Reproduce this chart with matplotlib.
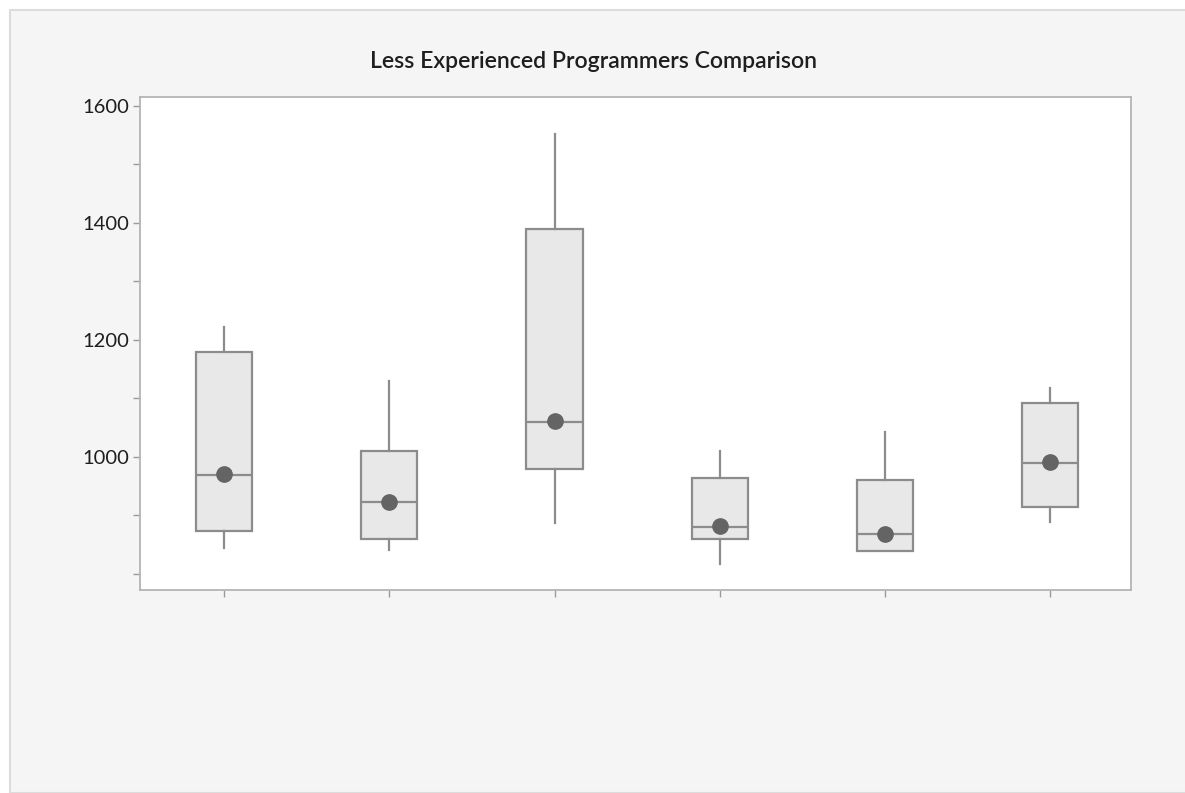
import numpy as np
import matplotlib
matplotlib.use('Agg')
import matplotlib.pyplot as plt
from matplotlib.patches import Rectangle

# Werte
groups = [1, 2, 3, 4, 5, 6]
whislo = [843, 840, 886, 817, 838, 889]
q1 = [873, 859, 979, 860, 838, 914]
med = [969, 922, 1060, 880, 867, 990]
q3 = [1179, 1010, 1389, 964, 960, 1091]
whishi = [1222, 1130, 1552, 1010, 1043, 1117]
means = [970, 923, 1061, 881, 867, 991]

plt.rcParams['font.family'] = ['Lato', 'DejaVu Sans']

fig = plt.figure(figsize=(11.85, 7.93), dpi=100, facecolor='white')
# grauer Hintergrund mit weissem Rand oben/links
bg = Rectangle((10 / 1185, 0), 1, 783 / 793, transform=fig.transFigure,
               facecolor='#f5f5f5', edgecolor='#dcdcdc', linewidth=1.5, zorder=-10)
fig.patches.append(bg)

ax = fig.add_axes([140 / 1185, 203 / 793, 991 / 1185, 493 / 793])
ax.set_facecolor('white')

stats = []
for i in range(len(groups)):
    stats.append({'whislo': whislo[i], 'q1': q1[i], 'med': med[i],
                  'q3': q3[i], 'whishi': whishi[i], 'fliers': []})

ax.bxp(stats, positions=groups, widths=0.34, patch_artist=True, showcaps=False,
       boxprops=dict(facecolor='#e8e8e8', edgecolor='#8c8c8c', linewidth=1.6),
       medianprops=dict(color='#8c8c8c', linewidth=1.6),
       whiskerprops=dict(color='#8c8c8c', linewidth=1.6))
ax.plot(groups, means, 'o', color='#646464', markersize=11, zorder=5)

ax.set_xlim(0.49, 6.49)
ax.set_ylim(772, 1615)
ax.set_yticks([1000, 1200, 1400, 1600])
ax.set_yticks([800, 900, 1100, 1300, 1500], minor=True)
ax.set_xticks(groups)
ax.set_xticklabels([])
ax.tick_params(axis='both', which='both', length=5, width=1, color='#9a9a9a',
               labelsize=14.5, labelcolor='#1e1e1e', pad=3)

for s in ax.spines.values():
    s.set_color('#b4b4b4')
    s.set_linewidth(1.3)

fig.text(594 / 1185, 1 - 61 / 793, "Less Experienced Programmers Comparison",
         ha='center', va='center', fontsize=16.6, fontweight='semibold', color='#1e1e1e')

fig.savefig('out.png', dpi=100)
